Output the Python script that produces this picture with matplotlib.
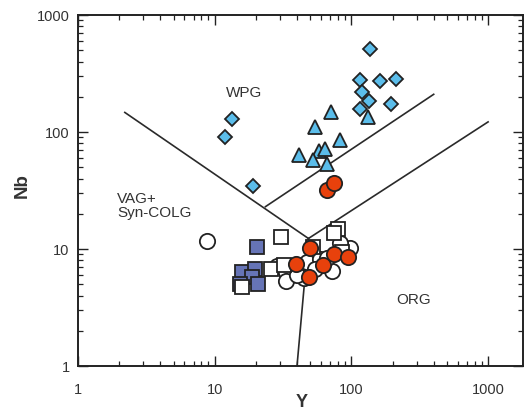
import numpy as np
import matplotlib
matplotlib.use('Agg')
import matplotlib.pyplot as plt

plt.rcParams['font.family'] = ['Liberation Sans', 'DejaVu Sans']

#%% boundary lines (Y, Nb)
bnd_vag_wpg_y = [2.2, 48.5]
bnd_vag_wpg_nb = [147, 12.3]
bnd_vag_org_y = [40, 48.5]
bnd_vag_org_nb = [1, 12.3]
bnd_vag_org2_y = [48.5, 1000]
bnd_vag_org2_nb = [12.3, 122]
bnd_wpg_org_y = [23.5, 400]
bnd_wpg_org_nb = [23, 210]

#%% samples
diam_y = [136, 115, 163, 212, 120, 134, 115, 196, 13.4, 11.8, 19]
diam_nb = [510, 278, 275, 286, 218, 185, 157, 175, 128, 91, 34.5]

tri_y = [71, 54, 83, 41.6, 57.5, 64.5, 52, 66.5, 132]
tri_nb = [147, 110, 85, 63, 69, 72, 57.5, 53, 134]

wcirc_y = [8.8, 28.5, 33.4, 33, 44.7, 47.4, 59, 72, 66, 98, 83, 40, 54]
wcirc_nb = [11.8, 7.1, 6.4, 5.3, 5.6, 7.8, 8.2, 6.5, 8.3, 10.1, 11.2, 6.0, 6.7]

wsq_y = [30.7, 80, 74, 26, 52, 85, 32]
wsq_nb = [12.7, 14.8, 13.6, 6.8, 10.5, 9.5, 7.3]

slate_y = [20.4, 15.8, 19.6, 18.8, 20.8, 15.4]
slate_nb = [10.4, 6.4, 6.7, 5.8, 5.0, 5.0]

wsq2_y = [15.8]
wsq2_nb = [4.7]

red_y = [66, 75, 50, 39.5, 49, 62, 74, 95]
red_nb = [32, 37, 10.1, 7.4, 5.8, 7.3, 9.0, 8.6]

blue = '#5BBDEA'
red = '#E8410C'
slate = '#6674B6'
ec = '#222222'
txt = '#333333'

fig = plt.figure(figsize=(5.26, 4.12), dpi=100)
ax = fig.add_axes([78/526, 46/412, 445/526, 351/412])

lc = dict(color='#2a2a2a', lw=1.2, zorder=2)
ax.plot(bnd_vag_wpg_y, bnd_vag_wpg_nb, **lc)
ax.plot(bnd_vag_org_y, bnd_vag_org_nb, **lc)
ax.plot(bnd_vag_org2_y, bnd_vag_org2_nb, **lc)
ax.plot(bnd_wpg_org_y, bnd_wpg_org_nb, **lc)

mk = dict(linestyle='none', markeredgecolor=ec, markeredgewidth=1.3)
ax.plot(wcirc_y, wcirc_nb, marker='o', ms=11, mfc='white', zorder=3, **mk)
ax.plot(wsq_y, wsq_nb, marker='s', ms=10.5, mfc='white', zorder=3, **mk)
ax.plot(slate_y, slate_nb, marker='s', ms=10.5, mfc=slate, zorder=4, **mk)
ax.plot(wsq2_y, wsq2_nb, marker='s', ms=10.5, mfc='white', zorder=4, **mk)
ax.plot(red_y, red_nb, marker='o', ms=11, mfc=red, zorder=5, **mk)
ax.plot(diam_y, diam_nb, marker='D', ms=7.5, mfc=blue, zorder=5, **mk)
ax.plot(tri_y, tri_nb, marker='^', ms=10.5, mfc=blue, zorder=5, **mk)

ax.text(12.1, 215, 'WPG', fontsize=11, color=txt, ha='left', va='center')
ax.text(1.93, 23.3, 'VAG+\nSyn-COLG', fontsize=11, color=txt, ha='left',
        va='center', linespacing=1.05)
ax.text(214, 3.67, 'ORG', fontsize=11, color=txt, ha='left', va='center')

ax.set_xscale('log')
ax.set_yscale('log')
ax.set_xlim(1, 1800)
ax.set_ylim(1, 1000)
ax.set_xticks([1, 10, 100, 1000])
ax.set_xticklabels(['1', '10', '100', '1000'])
ax.set_yticks([1, 10, 100, 1000])
ax.set_yticklabels(['1', '10', '100', '1000'])

ax.tick_params(which='both', direction='in', top=True, right=True,
               color='#222222', labelcolor=txt, labelsize=10.5)
ax.tick_params(axis='x', which='major', pad=12)
ax.tick_params(axis='y', which='major', pad=6)
ax.tick_params(which='major', length=7, width=1.0)
ax.tick_params(which='minor', length=3.5, width=0.9)
for s in ax.spines.values():
    s.set_linewidth(1.4)
    s.set_color('#222222')

ax.set_xlabel('Y', fontsize=13, fontweight='bold', color=txt, va='center')
ax.set_ylabel('Nb', fontsize=13.5, fontweight='bold', color=txt, va='center')
ax.xaxis.set_label_coords(0.503, -0.104)
ax.yaxis.set_label_coords(-0.125, 0.513)

fig.savefig('out.png', dpi=100)
